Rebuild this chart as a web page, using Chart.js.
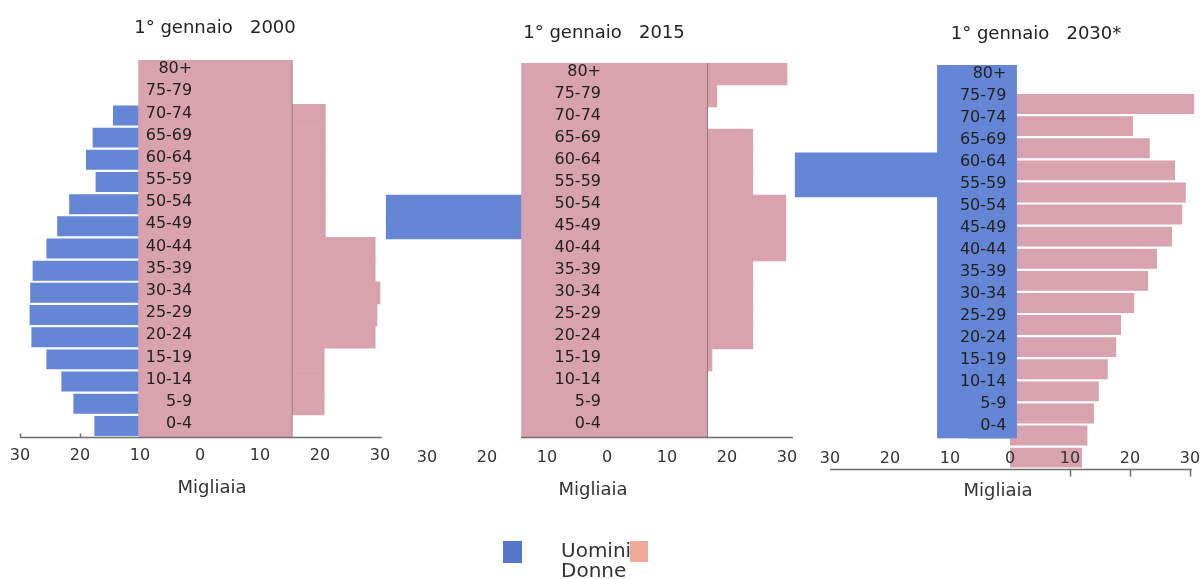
<!DOCTYPE html>
<html lang="it">
<head>
<meta charset="utf-8">
<title>Piramidi delle età</title>
<script src="https://cdn.jsdelivr.net/npm/chart.js@4.4.1/dist/chart.umd.min.js"></script>
<style>
  html, body { margin: 0; padding: 0; background: #fff; }
  #stage { position: relative; width: 1200px; height: 579px; overflow: hidden; background: #fff;
           font-family: 'DejaVu Sans', Verdana, sans-serif; color: #222; }
  #stage canvas { position: absolute; left: 0; top: 0; }
  .ttl { position: absolute; font-size: 18px; line-height: 22px; white-space: pre; transform: translateX(-50%); color: #222; }
  .key { position: absolute; }
  .txt { position: absolute; font-size: 20px; line-height: 24px; color: #333; }
</style>
</head>
<body>
<div id="stage">
  <canvas id="c2000" width="1240" height="579"></canvas>
  <canvas id="c2015" width="1240" height="579"></canvas>
  <canvas id="c2030" width="1240" height="579"></canvas>

  <div class="ttl" style="left:215px;top:16px">1° gennaio   2000</div>
  <div class="ttl" style="left:604px;top:21px">1° gennaio   2015</div>
  <div class="ttl" style="left:1036px;top:22px">1° gennaio   2030*</div>

  <div class="key" style="left:503px;top:541px;width:19px;height:22px;background:#5676c8"></div>
  <div class="txt" style="left:561px;top:538px">Uomini</div>
  <div class="txt" style="left:561px;top:558px">Donne</div>
  <div class="key" style="left:630px;top:541px;width:18px;height:21px;background:#eeaa94"></div>
</div>

<script>
// Age classes, oldest first (top of each pyramid)
const ageGroups = ['80+', '75-79', '70-74', '65-69', '60-64', '55-59', '50-54', '45-49',
                   '40-44', '35-39', '30-34', '25-29', '20-24', '15-19', '10-14', '5-9', '0-4'];

// Axis ticks (thousands), shown as absolute values on both sides
const xTickValues = [-30, -20, -10, 0, 10, 20, 30];

// Population in thousands, same order as ageGroups
const men2000   = [6, 9, 14.5, 17.9, 19.0, 17.4, 21.8, 23.8, 25.6, 27.9, 28.3, 28.4, 28.1, 25.6, 23.1, 21.1, 17.6];
const women2000 = [12, 14, 20.9, 20.9, 20.9, 20.9, 20.9, 20.9, 29.2, 29.2, 30.0, 29.5, 29.2, 20.7, 20.7, 20.7, 15];

const men2015   = [8, 10, 11, 12, 13, 13.5, 36.8, 36.8, 14, 13.5, 13, 12.5, 12, 11.5, 11, 10.5, 10];
const women2015 = [30.0, 18.3, 16, 24.3, 24.3, 24.3, 29.8, 29.8, 29.8, 24.3, 24.3, 24.3, 24.3, 17.5, 16, 15.5, 15];

const men2030   = [9, 10, 11, 11.5, 35.8, 35.8, 11.5, 11.5, 11, 10.5, 10, 9.5, 9, 8.5, 8, 7.5, 7];
const women2030 = [30.7, 20.5, 23.3, 27.5, 29.3, 28.7, 27.0, 24.5, 23.0, 20.7, 18.5, 17.7, 16.3, 14.8, 14.0, 12.9, 12.0];

// Shaded band behind the age labels: [from, to] in thousands
const labelBand2000 = [-10.3, 15.4];
const labelBand2015 = [-14.3, 16.8];
const labelBand2030 = [-12.1, 1.1];

const BLUE = '#6586d4';
const PINK = '#d9a2af';
const EDGE = '#8a6e77';
const RULE = '#6e6e6e';

Chart.defaults.font.family = "'DejaVu Sans', Verdana, sans-serif";
Chart.defaults.color = '#333';

// Base line under each pyramid plus its few small tick marks
const axisRule = {
  id: 'axisRule',
  afterDatasetsDraw(chart, args, opts) {
    const { ctx, scales } = chart;
    const xs = scales.x;
    const y = Math.round(scales[opts.yAxis].getPixelForValue(opts.at)) + 0.5;
    ctx.save();
    ctx.strokeStyle = RULE;
    ctx.lineWidth = 1.5;
    ctx.beginPath();
    ctx.moveTo(xs.getPixelForValue(opts.from), y);
    ctx.lineTo(xs.getPixelForValue(opts.to), y);
    opts.marks.forEach(v => {
      const px = Math.round(xs.getPixelForValue(v)) + 0.5;
      ctx.moveTo(px, y);
      ctx.lineTo(px, y + opts.markLen);
    });
    ctx.stroke();
    ctx.restore();
  }
};

function pyramid(id, p) {
  const scales = {
    x: {
      type: 'linear', min: p.xMin, max: p.xMax,
      grid: { display: false, drawTicks: false },
      border: { display: false },
      afterBuildTicks: s => { s.ticks = xTickValues.map(v => ({ value: v })); },
      ticks: { z: 1, padding: p.tickPad, color: '#333', font: { size: 16 }, callback: v => Math.abs(v) },
      title: { display: true, text: 'Migliaia', color: '#333', font: { size: 18 },
               padding: { top: p.titlePad, bottom: 0 } }
    },
    y: {
      type: 'category', labels: ageGroups, offset: true, position: { x: p.labelAt },
      grid: { display: false, drawTicks: false },
      border: { display: false },
      ticks: { z: 2, padding: 0, color: '#222', font: { size: 16 }, labelOffset: -2, autoSkip: false }
    },
    yBand: { type: 'category', labels: [''], offset: true, display: false }
  };

  const women = {
    label: 'Donne', backgroundColor: PINK, order: 2,
    categoryPercentage: 1, barPercentage: p.womenBar
  };
  if (p.womenShift) {
    // women drawn on their own index axis, a little lower than the labels
    scales.yW = {
      type: 'linear', reverse: true, offset: false, display: false,
      min: p.womenShift[0], max: p.womenShift[1],
      afterBuildTicks: s => { s.ticks = s.ticks.filter(t => Number.isInteger(t.value)); }
    };
    women.yAxisID = 'yW';
    women.clip = false;
    women.data = p.women.map((v, i) => ({ x: v, y: i }));
  } else {
    women.yAxisID = 'y';
    women.data = p.women;
  }

  return new Chart(document.getElementById(id), {
    type: 'bar',
    data: {
      labels: ageGroups,
      datasets: [
        { label: 'band', yAxisID: 'yBand', data: [p.band], backgroundColor: p.bandColor,
          borderColor: EDGE, borderWidth: p.bandEdge, borderSkipped: false,
          categoryPercentage: 1, barPercentage: 1, order: 0 },
        { label: 'Uomini', yAxisID: 'y', data: p.men.map(v => -v), backgroundColor: BLUE,
          categoryPercentage: 1, barPercentage: p.menBar, order: 3 },
        women
      ]
    },
    options: {
      indexAxis: 'y',
      responsive: false,
      animation: false,
      events: [],
      datasets: { bar: { grouped: false } },
      layout: { padding: p.padding },
      scales,
      plugins: {
        legend: { display: false },
        tooltip: { enabled: false },
        axisRule: p.rule
      }
    },
    plugins: [axisRule]
  });
}

pyramid('c2000', {
  men: men2000, women: women2000, band: labelBand2000,
  bandColor: PINK, bandEdge: { right: 1 },
  menBar: 0.9, womenBar: 1,
  xMin: -33.333, xMax: 37.333, labelAt: -1.3,
  padding: { left: 0, right: 816, top: 60, bottom: 80.2 },
  tickPad: 9.4, titlePad: 2.2,
  rule: { yAxis: 'y', at: 16.5, from: -30, to: 30.3, marks: [-30, -20], markLen: -4 }
});

pyramid('c2015', {
  men: men2015, women: women2015, band: labelBand2015,
  bandColor: PINK, bandEdge: { right: 1 },
  menBar: 1, womenBar: 1,
  xMin: -37.833, xMax: 33.167, labelAt: -1.0,
  padding: { left: 380, right: 434, top: 63, bottom: 78.2 },
  tickPad: 11.4, titlePad: 0.2,
  rule: { yAxis: 'y', at: 16.5, from: -14.3, to: 31, marks: [], markLen: 0 }
});

pyramid('c2030', {
  men: men2030, women: women2030, band: labelBand2030,
  bandColor: BLUE, bandEdge: 0,
  menBar: 1, womenBar: 0.9,
  womenShift: [-1.767, 15.133],
  xMin: -36.667, xMax: 32.667, labelAt: -0.6,
  padding: { left: 790, right: 34, top: 65, bottom: 77.2 },
  tickPad: 10.9, titlePad: 0.7,
  rule: { yAxis: 'yW', at: 16.5, from: -30, to: 30.3, marks: [10, 20, 30], markLen: 7 }
});
</script>
</body>
</html>
